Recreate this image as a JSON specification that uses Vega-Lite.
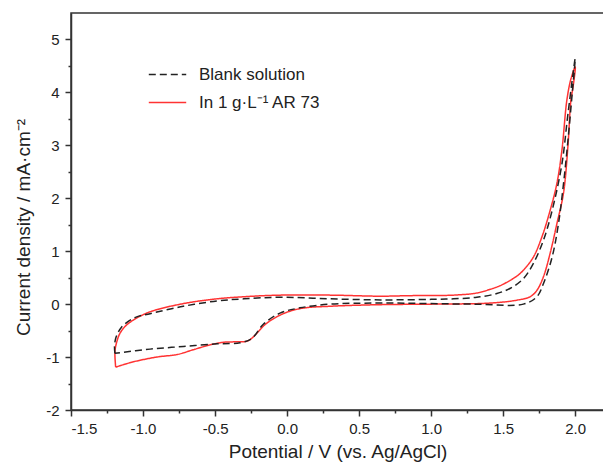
{
  "$schema": "https://vega.github.io/schema/vega-lite/v6.json",
  "width": 533,
  "height": 397,
  "autosize": {"type": "none"},
  "padding": {"left": 71, "top": 13, "right": 0, "bottom": 55},
  "background": "white",
  "config": {
    "view": {"stroke": "#333333", "strokeWidth": 1.5},
    "font": "Liberation Sans"
  },
  "datasets": {
    "cv": [
      {"series": "In 1 g·L⁻¹ AR 73", "i": 1, "E": -1.19, "j": -1.19},
      {"series": "In 1 g·L⁻¹ AR 73", "i": 2, "E": -1.195, "j": -0.9},
      {"series": "In 1 g·L⁻¹ AR 73", "i": 3, "E": -1.185, "j": -0.74},
      {"series": "In 1 g·L⁻¹ AR 73", "i": 4, "E": -1.16, "j": -0.55},
      {"series": "In 1 g·L⁻¹ AR 73", "i": 5, "E": -1.12, "j": -0.41},
      {"series": "In 1 g·L⁻¹ AR 73", "i": 6, "E": -1.067, "j": -0.3},
      {"series": "In 1 g·L⁻¹ AR 73", "i": 7, "E": -0.951, "j": -0.145},
      {"series": "In 1 g·L⁻¹ AR 73", "i": 8, "E": -0.72, "j": 0.01},
      {"series": "In 1 g·L⁻¹ AR 73", "i": 9, "E": -0.488, "j": 0.1},
      {"series": "In 1 g·L⁻¹ AR 73", "i": 10, "E": -0.3, "j": 0.14},
      {"series": "In 1 g·L⁻¹ AR 73", "i": 11, "E": -0.05, "j": 0.17},
      {"series": "In 1 g·L⁻¹ AR 73", "i": 12, "E": 0.3, "j": 0.17},
      {"series": "In 1 g·L⁻¹ AR 73", "i": 13, "E": 0.65, "j": 0.15},
      {"series": "In 1 g·L⁻¹ AR 73", "i": 14, "E": 0.85, "j": 0.16},
      {"series": "In 1 g·L⁻¹ AR 73", "i": 15, "E": 1.155, "j": 0.17},
      {"series": "In 1 g·L⁻¹ AR 73", "i": 16, "E": 1.317, "j": 0.21},
      {"series": "In 1 g·L⁻¹ AR 73", "i": 17, "E": 1.41, "j": 0.28},
      {"series": "In 1 g·L⁻¹ AR 73", "i": 18, "E": 1.48, "j": 0.35},
      {"series": "In 1 g·L⁻¹ AR 73", "i": 19, "E": 1.549, "j": 0.45},
      {"series": "In 1 g·L⁻¹ AR 73", "i": 20, "E": 1.6, "j": 0.54},
      {"series": "In 1 g·L⁻¹ AR 73", "i": 21, "E": 1.64, "j": 0.64},
      {"series": "In 1 g·L⁻¹ AR 73", "i": 22, "E": 1.71, "j": 0.89},
      {"series": "In 1 g·L⁻¹ AR 73", "i": 23, "E": 1.769, "j": 1.27},
      {"series": "In 1 g·L⁻¹ AR 73", "i": 24, "E": 1.826, "j": 1.77},
      {"series": "In 1 g·L⁻¹ AR 73", "i": 25, "E": 1.873, "j": 2.28},
      {"series": "In 1 g·L⁻¹ AR 73", "i": 26, "E": 1.908, "j": 2.91},
      {"series": "In 1 g·L⁻¹ AR 73", "i": 27, "E": 1.942, "j": 3.85},
      {"series": "In 1 g·L⁻¹ AR 73", "i": 28, "E": 1.97, "j": 4.25},
      {"series": "In 1 g·L⁻¹ AR 73", "i": 29, "E": 2.0, "j": 4.48},
      {"series": "In 1 g·L⁻¹ AR 73", "i": 30, "E": 1.985, "j": 4.1},
      {"series": "In 1 g·L⁻¹ AR 73", "i": 31, "E": 1.97, "j": 3.85},
      {"series": "In 1 g·L⁻¹ AR 73", "i": 32, "E": 1.95, "j": 3.0},
      {"series": "In 1 g·L⁻¹ AR 73", "i": 33, "E": 1.919, "j": 2.1},
      {"series": "In 1 g·L⁻¹ AR 73", "i": 34, "E": 1.873, "j": 1.52},
      {"series": "In 1 g·L⁻¹ AR 73", "i": 35, "E": 1.826, "j": 0.96},
      {"series": "In 1 g·L⁻¹ AR 73", "i": 36, "E": 1.78, "j": 0.52},
      {"series": "In 1 g·L⁻¹ AR 73", "i": 37, "E": 1.734, "j": 0.26},
      {"series": "In 1 g·L⁻¹ AR 73", "i": 38, "E": 1.687, "j": 0.14},
      {"series": "In 1 g·L⁻¹ AR 73", "i": 39, "E": 1.595, "j": 0.075},
      {"series": "In 1 g·L⁻¹ AR 73", "i": 40, "E": 1.41, "j": 0.02},
      {"series": "In 1 g·L⁻¹ AR 73", "i": 41, "E": 1.0, "j": 0.0},
      {"series": "In 1 g·L⁻¹ AR 73", "i": 42, "E": 0.646, "j": -0.01},
      {"series": "In 1 g·L⁻¹ AR 73", "i": 43, "E": 0.3, "j": -0.04},
      {"series": "In 1 g·L⁻¹ AR 73", "i": 44, "E": 0.1, "j": -0.08},
      {"series": "In 1 g·L⁻¹ AR 73", "i": 45, "E": -0.026, "j": -0.18},
      {"series": "In 1 g·L⁻¹ AR 73", "i": 46, "E": -0.141, "j": -0.36},
      {"series": "In 1 g·L⁻¹ AR 73", "i": 47, "E": -0.269, "j": -0.69},
      {"series": "In 1 g·L⁻¹ AR 73", "i": 48, "E": -0.34, "j": -0.71},
      {"series": "In 1 g·L⁻¹ AR 73", "i": 49, "E": -0.44, "j": -0.72},
      {"series": "In 1 g·L⁻¹ AR 73", "i": 50, "E": -0.535, "j": -0.77},
      {"series": "In 1 g·L⁻¹ AR 73", "i": 51, "E": -0.65, "j": -0.86},
      {"series": "In 1 g·L⁻¹ AR 73", "i": 52, "E": -0.76, "j": -0.95},
      {"series": "In 1 g·L⁻¹ AR 73", "i": 53, "E": -0.905, "j": -1.0},
      {"series": "In 1 g·L⁻¹ AR 73", "i": 54, "E": -1.067, "j": -1.09},
      {"series": "In 1 g·L⁻¹ AR 73", "i": 55, "E": -1.19, "j": -1.19},
      {"series": "Blank solution", "i": 1, "E": -1.195, "j": -0.93},
      {"series": "Blank solution", "i": 2, "E": -1.198, "j": -0.8},
      {"series": "Blank solution", "i": 3, "E": -1.19, "j": -0.65},
      {"series": "Blank solution", "i": 4, "E": -1.17, "j": -0.52},
      {"series": "Blank solution", "i": 5, "E": -1.148, "j": -0.43},
      {"series": "Blank solution", "i": 6, "E": -1.1, "j": -0.32},
      {"series": "Blank solution", "i": 7, "E": -1.044, "j": -0.24},
      {"series": "Blank solution", "i": 8, "E": -0.951, "j": -0.18},
      {"series": "Blank solution", "i": 9, "E": -0.72, "j": -0.04},
      {"series": "Blank solution", "i": 10, "E": -0.488, "j": 0.06},
      {"series": "Blank solution", "i": 11, "E": -0.3, "j": 0.1},
      {"series": "Blank solution", "i": 12, "E": -0.05, "j": 0.13},
      {"series": "Blank solution", "i": 13, "E": 0.3, "j": 0.1},
      {"series": "Blank solution", "i": 14, "E": 0.65, "j": 0.08},
      {"series": "Blank solution", "i": 15, "E": 1.0, "j": 0.09},
      {"series": "Blank solution", "i": 16, "E": 1.155, "j": 0.1},
      {"series": "Blank solution", "i": 17, "E": 1.317, "j": 0.13},
      {"series": "Blank solution", "i": 18, "E": 1.456, "j": 0.2},
      {"series": "Blank solution", "i": 19, "E": 1.55, "j": 0.3},
      {"series": "Blank solution", "i": 20, "E": 1.64, "j": 0.48},
      {"series": "Blank solution", "i": 21, "E": 1.71, "j": 0.77},
      {"series": "Blank solution", "i": 22, "E": 1.78, "j": 1.21},
      {"series": "Blank solution", "i": 23, "E": 1.84, "j": 1.77},
      {"series": "Blank solution", "i": 24, "E": 1.908, "j": 2.65},
      {"series": "Blank solution", "i": 25, "E": 1.95, "j": 3.6},
      {"series": "Blank solution", "i": 26, "E": 2.0, "j": 4.64},
      {"series": "Blank solution", "i": 27, "E": 1.98, "j": 4.0},
      {"series": "Blank solution", "i": 28, "E": 1.95, "j": 3.1},
      {"series": "Blank solution", "i": 29, "E": 1.92, "j": 2.3},
      {"series": "Blank solution", "i": 30, "E": 1.884, "j": 1.52},
      {"series": "Blank solution", "i": 31, "E": 1.84, "j": 0.89},
      {"series": "Blank solution", "i": 32, "E": 1.78, "j": 0.39},
      {"series": "Blank solution", "i": 33, "E": 1.734, "j": 0.14},
      {"series": "Blank solution", "i": 34, "E": 1.64, "j": 0.0},
      {"series": "Blank solution", "i": 35, "E": 1.3, "j": 0.0},
      {"series": "Blank solution", "i": 36, "E": 0.646, "j": 0.02},
      {"series": "Blank solution", "i": 37, "E": 0.3, "j": 0.0},
      {"series": "Blank solution", "i": 38, "E": 0.09, "j": -0.07},
      {"series": "Blank solution", "i": 39, "E": -0.049, "j": -0.17},
      {"series": "Blank solution", "i": 40, "E": -0.165, "j": -0.38},
      {"series": "Blank solution", "i": 41, "E": -0.245, "j": -0.65},
      {"series": "Blank solution", "i": 42, "E": -0.326, "j": -0.73},
      {"series": "Blank solution", "i": 43, "E": -0.488, "j": -0.75},
      {"series": "Blank solution", "i": 44, "E": -0.72, "j": -0.8},
      {"series": "Blank solution", "i": 45, "E": -0.951, "j": -0.85},
      {"series": "Blank solution", "i": 46, "E": -1.195, "j": -0.93}
    ]
  },
  "data": {"name": "cv"},
  "layer": [
    {
      "mark": {"type": "point", "opacity": 0},
      "encoding": {
        "x": {
          "field": "E", "type": "quantitative",
          "scale": {"domain": [-1.5, 2.2], "nice": false, "zero": false},
          "axis": {
            "orient": "bottom", "values": [-1.25, -0.75, -0.25, 0.25, 0.75, 1.25, 1.75],
            "labels": false, "domain": false, "grid": false, "title": null,
            "tickSize": 3, "tickWidth": 1.5, "tickColor": "#333333"
          }
        },
        "y": {
          "field": "j", "type": "quantitative",
          "scale": {"domain": [-2, 5.5], "nice": false, "zero": false},
          "axis": {
            "orient": "left", "values": [-1.5, -0.5, 0.5, 1.5, 2.5, 3.5, 4.5],
            "labels": false, "domain": false, "grid": false, "title": null,
            "tickSize": 3, "tickWidth": 1.5, "tickColor": "#333333"
          }
        }
      }
    },
    {
      "mark": {"type": "line", "interpolate": "catmull-rom", "strokeWidth": 1.5, "clip": true},
      "encoding": {
        "x": {
          "field": "E", "type": "quantitative",
          "scale": {"domain": [-1.5, 2.2], "nice": false, "zero": false},
          "axis": {
            "orient": "bottom", "values": [-1.5, -1, -0.5, 0, 0.5, 1, 1.5, 2],
            "labelExpr": "datum.value < 0 ? '-' + format(-datum.value, '.1f') : format(datum.value, '.1f')",
            "grid": false, "tickSize": 6, "tickWidth": 1.5, "tickColor": "#333333",
            "domainColor": "#333333", "domainWidth": 1.5,
            "labelFontSize": 15, "labelColor": "#222222", "labelPadding": 5,
            "title": "Potential / V (vs. Ag/AgCl)", "titleFontSize": 19, "titleFontWeight": "normal",
            "titleColor": "#222222", "titlePadding": 6
          }
        },
        "y": {
          "field": "j", "type": "quantitative",
          "scale": {"domain": [-2, 5.5], "nice": false, "zero": false},
          "axis": {
            "orient": "left", "values": [-2, -1, 0, 1, 2, 3, 4, 5],
            "labelExpr": "datum.value < 0 ? '-' + format(-datum.value, 'd') : format(datum.value, 'd')",
            "grid": false, "tickSize": 6, "tickWidth": 1.5, "tickColor": "#333333",
            "domainColor": "#333333", "domainWidth": 1.5,
            "labelFontSize": 15, "labelColor": "#222222", "labelPadding": 6,
            "title": "Current density / mA·cm⁻²", "titleFontSize": 19, "titleFontWeight": "normal",
            "titleColor": "#222222", "titleX": -38, "titleY": 214, "titleBaseline": "bottom"
          }
        },
        "order": {"field": "i", "type": "quantitative"},
        "color": {
          "field": "series", "type": "nominal",
          "scale": {"domain": ["Blank solution", "In 1 g·L⁻¹ AR 73"], "range": ["#222222", "#ff3333"]},
          "legend": {
            "orient": "none", "legendX": 77, "legendY": 42, "title": null,
            "symbolType": "stroke", "symbolSize": 1400, "symbolStrokeWidth": 1.5,
            "labelFontSize": 17, "labelColor": "#222222", "labelOffset": 12, "rowPadding": -4
          }
        },
        "strokeDash": {
          "field": "series", "type": "nominal",
          "scale": {"domain": ["Blank solution", "In 1 g·L⁻¹ AR 73"], "range": [[7, 4], [1, 0]]},
          "legend": null
        }
      }
    }
  ],
  "resolve": {"axis": {"x": "independent", "y": "independent"}}
}
